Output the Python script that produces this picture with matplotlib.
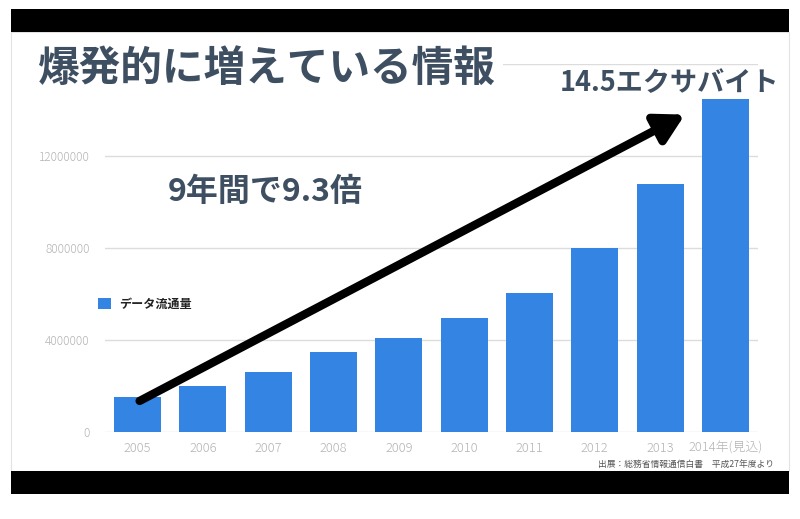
import matplotlib
matplotlib.use("Agg")
import matplotlib.pyplot as plt
from matplotlib.patches import Rectangle

plt.rcParams['font.family'] = ['Noto Sans CJK JP', 'DejaVu Sans']

years = ['2005', '2006', '2007', '2008', '2009', '2010', '2011', '2012', '2013', '2014年(見込)']
traffic = [1540000, 2010000, 2620000, 3500000, 4100000, 4940000, 6040000, 8000000, 10800000, 14500000]
yticks = [0, 4000000, 8000000, 12000000, 16000000]

W, H = 800, 519
fig = plt.figure(figsize=(W / 100, H / 100), dpi=100)

# letterbox frame
def px_rect(x0, y0, x1, y1, **kw):
    fig.patches.append(Rectangle((x0 / W, 1 - y1 / H), (x1 - x0) / W, (y1 - y0) / H,
                                 transform=fig.transFigure, figure=fig, **kw))

px_rect(11, 32, 789, 471, facecolor='white', edgecolor='#e2e2e2', lw=0.8, zorder=-2)
px_rect(11, 9, 789, 32, facecolor='black', edgecolor='none', zorder=-1)
px_rect(11, 471, 789, 494, facecolor='black', edgecolor='none', zorder=-1)

ax = fig.add_axes([105 / W, 1 - 432 / H, 653 / W, 368 / H])
ax.set_zorder(2)
ax.set_facecolor('none')
x = range(len(years))
ax.bar(x, traffic, width=0.72, color='#3484e3', label='データ流通量', zorder=2)
ax.set_xlim(-0.5, len(years) - 0.5)
ax.set_ylim(0, 16000000)
ax.set_yticks(yticks)
# top label is hidden behind the title in the reference
ax.set_yticklabels([str(v) if v < 16000000 else '' for v in yticks])
ax.set_xticks(list(x))
ax.set_xticklabels(years)
ax.grid(axis='y', color='#dcdcdc', lw=1, zorder=0)
ax.set_axisbelow(True)
for s in ax.spines.values():
    s.set_visible(False)
ax.tick_params(axis='both', length=0, colors='#b4b4b4')
ax.tick_params(axis='y', pad=11, labelsize=8.5)
ax.tick_params(axis='x', pad=7, labelsize=9.3)
for t in ax.get_xticklabels() + ax.get_yticklabels():
    t.set_fontweight('light')

leg = ax.legend(loc='center left', bbox_to_anchor=(87 / W, 1 - 304 / H), bbox_transform=fig.transFigure,
                frameon=False, fontsize=8.7, handlelength=1.05, handleheight=1.05, handletextpad=0.75,
                labelcolor='#222222')
for t in leg.get_texts():
    t.set_fontweight('bold')

# big arrow
ax.annotate('', xy=(8.38, 13800000), xytext=(0.03, 1350000),
            arrowprops=dict(arrowstyle='-|>,head_length=1.7,head_width=0.95', color='black', lw=6,
                            shrinkA=0, shrinkB=0), zorder=5)

fig.text(37 / W, 1 - 69 / H, '爆発的に増えている情報', fontsize=30, fontweight='bold', color='#3e4f62',
         va='center', ha='left', zorder=10,
         bbox=dict(facecolor='white', edgecolor='none', pad=6))
fig.text(560 / W, 1 - 83 / H, '14.5エクサバイト', fontsize=19.5, fontweight='bold', color='#3e4f62',
         va='center', ha='left', zorder=10)
fig.text(168 / W, 1 - 192 / H, '9年間で9.3倍', fontsize=23, fontweight='bold', color='#3e4f62',
         va='center', ha='left', zorder=10)
fig.text(774 / W, 1 - 464 / H, '出展：総務省情報通信白書　平成27年度より', fontsize=6.3, color='#555555',
         va='center', ha='right', zorder=10)

fig.savefig('out.png', dpi=100, facecolor='white')
